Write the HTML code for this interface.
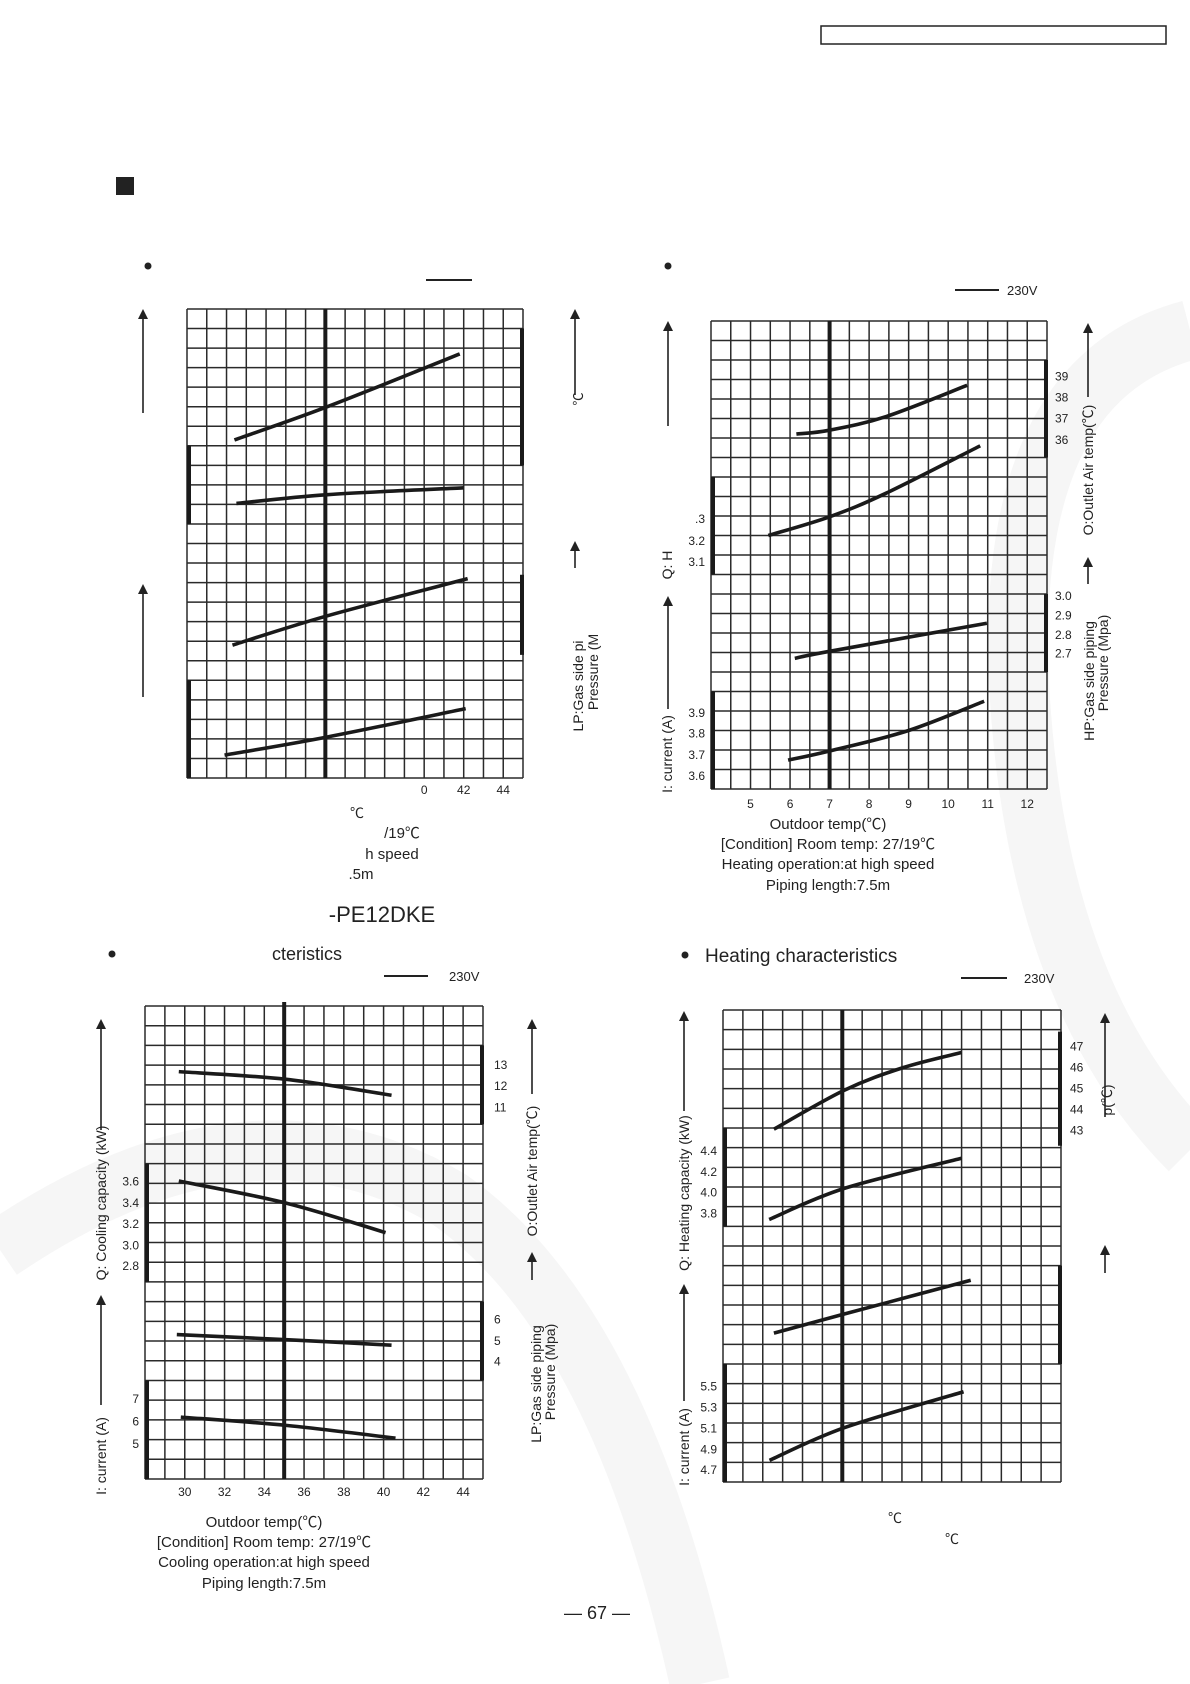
<!DOCTYPE html>
<html><head><meta charset="utf-8"><style>
html,body{margin:0;padding:0;background:#fff}
svg{display:block}
text{font-family:"Liberation Sans","Noto Sans CJK SC",sans-serif;fill:#222}
</style></head><body>
<svg id="page" width="1190" height="1684" viewBox="0 0 1190 1684" xmlns="http://www.w3.org/2000/svg">
<g id="bg" fill="none" stroke="#f6f6f6" stroke-width="60">
<path d="M1190 330 Q1000 380 1020 700 Q1040 1000 1190 1150"/>
<path d="M0 1250 Q250 1080 450 1200 Q620 1320 700 1684"/>
</g>
<rect x="821" y="26" width="345" height="18" fill="none" stroke="#222" stroke-width="1.5"/>
<rect x="116" y="177" width="18" height="18" fill="#222"/>

<circle cx="148" cy="266" r="3.5" fill="#222"/>
<line x1="426" y1="280" x2="472" y2="280" stroke="#222" stroke-width="2"/>
<text x="357" y="818" font-size="14" text-anchor="middle">℃</text>
<text x="402" y="838" font-size="15" text-anchor="middle">/19℃</text>
<text x="392" y="859" font-size="15" text-anchor="middle">h speed</text>
<text x="361" y="879" font-size="15" text-anchor="middle">.5m</text>
<text x="583" y="399" font-size="13" text-anchor="middle" transform="rotate(-90 583 399)">℃</text>
<text x="583" y="686" font-size="14" text-anchor="middle" transform="rotate(-90 583 686)">LP:Gas side pi</text>
<text x="598" y="672" font-size="14" text-anchor="middle" transform="rotate(-90 598 672)">Pressure (M</text>

<circle cx="668" cy="266" r="3.5" fill="#222"/>
<line x1="955" y1="290" x2="999" y2="290" stroke="#222" stroke-width="2"/>
<text x="1007" y="295" font-size="13">230V</text>
<text x="672" y="565" font-size="14" text-anchor="middle" transform="rotate(-90 672 565)">Q: H</text>
<text x="672" y="754" font-size="14" text-anchor="middle" transform="rotate(-90 672 754)">I: current (A)</text>
<text x="1093" y="470" font-size="14" text-anchor="middle" transform="rotate(-90 1093 470)">O:Outlet Air temp(℃)</text>
<text x="1094" y="681" font-size="14" text-anchor="middle" transform="rotate(-90 1094 681)">HP:Gas side piping</text>
<text x="1108" y="663" font-size="14" text-anchor="middle" transform="rotate(-90 1108 663)">Pressure (Mpa)</text>
<text x="828" y="829" font-size="15" text-anchor="middle">Outdoor temp(℃)</text>
<text x="828" y="849" font-size="15" text-anchor="middle">[Condition] Room temp: 27/19℃</text>
<text x="828" y="869" font-size="15" text-anchor="middle">Heating operation:at high speed</text>
<text x="828" y="890" font-size="15" text-anchor="middle">Piping length:7.5m</text>

<text x="382" y="922" font-size="22" text-anchor="middle">-PE12DKE</text>
<circle cx="112" cy="954" r="3.5" fill="#222"/>
<text x="307" y="960" font-size="18" text-anchor="middle">cteristics</text>
<line x1="384" y1="976" x2="428" y2="976" stroke="#222" stroke-width="2"/>
<text x="449" y="981" font-size="13">230V</text>
<text x="106" y="1203" font-size="14" text-anchor="middle" transform="rotate(-90 106 1203)">Q: Cooling capacity (kW)</text>
<text x="106" y="1456" font-size="14" text-anchor="middle" transform="rotate(-90 106 1456)">I: current (A)</text>
<text x="537" y="1171" font-size="14" text-anchor="middle" transform="rotate(-90 537 1171)">O:Outlet Air temp(℃)</text>
<text x="541" y="1384" font-size="14" text-anchor="middle" transform="rotate(-90 541 1384)">LP:Gas side piping</text>
<text x="555" y="1372" font-size="14" text-anchor="middle" transform="rotate(-90 555 1372)">Pressure (Mpa)</text>
<text x="264" y="1527" font-size="15" text-anchor="middle">Outdoor temp(℃)</text>
<text x="264" y="1547" font-size="15" text-anchor="middle">[Condition] Room temp: 27/19℃</text>
<text x="264" y="1567" font-size="15" text-anchor="middle">Cooling operation:at high speed</text>
<text x="264" y="1588" font-size="15" text-anchor="middle">Piping length:7.5m</text>

<circle cx="685" cy="955" r="3.5" fill="#222"/>
<text x="705" y="962" font-size="19">Heating characteristics</text>
<line x1="961" y1="978" x2="1007" y2="978" stroke="#222" stroke-width="2"/>
<text x="1024" y="983" font-size="13">230V</text>
<text x="689" y="1193" font-size="14" text-anchor="middle" transform="rotate(-90 689 1193)">Q: Heating capacity (kW)</text>
<text x="689" y="1447" font-size="14" text-anchor="middle" transform="rotate(-90 689 1447)">I: current (A)</text>
<text x="1112" y="1100" font-size="14" text-anchor="middle" transform="rotate(-90 1112 1100)">p(℃)</text>
<text x="895" y="1523" font-size="14" text-anchor="middle">℃</text>
<text x="952" y="1544" font-size="14" text-anchor="middle">℃</text>

<text x="597" y="1619" font-size="18" text-anchor="middle">— 67 —</text>
<g id="charts"></g>
</svg>
<script>
const tlX1=[30.4,35.1,41.8], tlY1=[17.3,19.0,21.7];
const tlX2=[30.5,35.1,42.0], tlY2=[14.05,14.5,14.85];
const tlX3=[30.3,35.1,42.2], tlY3=[6.8,8.3,10.2];
const tlX4=[29.9,35.1,42.1], tlY4=[1.17,2.1,3.55];
const tlTicks=[40,42,44], tlTickLabels=["0","42","44"];

const trX1=[6.16,7.0,8.43,10.48], trY1=[18.2,18.4,19.1,20.7];
const trX2=[5.45,7.0,8.43,10.81], trY2=[13.0,13.96,15.17,17.6];
const trX3=[6.12,7.0,10.98], trY3=[6.7,7.06,8.5];
const trX4=[5.95,7.0,9.0,10.91], trY4=[1.48,1.95,3.0,4.5];
const trTicks=[5,6,7,8,9,10,11,12], trTickLabels=["5","6","7","8","9","10","11","12"];

const blX1=[29.7,35.1,40.4], blY1=[20.67,20.28,19.47];
const blX2=[29.7,35.1,40.1], blY2=[15.12,14.0,12.5];
const blX3=[29.6,35.1,40.4], blY3=[7.33,7.07,6.79];
const blX4=[29.8,35.1,40.6], blY4=[3.14,2.72,2.07];
const blTicks=[30,32,34,36,38,40,42,44], blTickLabels=["30","32","34","36","38","40","42","44"];

const brX1=[5.28,7.05,8.53,10.0], brY1=[17.94,19.92,21.07,21.84];
const brX2=[5.16,7.05,10.0], brY2=[13.35,14.93,16.46];
const brX3=[5.28,7.05,10.23], brY3=[7.57,8.54,10.26];
const brX4=[5.17,7.05,10.05], brY4=[1.1,2.76,4.59];

const trLeftVals=[13.85,12.73,11.64,3.91,2.84,1.74,0.67], trLeftLabels=[".3","3.2","3.1","3.9","3.8","3.7","3.6"];
const trRightVals=[21.15,20.08,18.99,17.91,9.9,8.9,7.91,6.94], trRightLabels=["39","38","37","36","3.0","2.9","2.8","2.7"];
const blLeftVals=[15.1,14.0,12.95,11.86,10.81,4.05,2.93,1.77], blLeftLabels=["3.6","3.4","3.2","3.0","2.8","7","6","5"];
const blRightVals=[21.0,19.95,18.84,8.1,7.0,5.95], blRightLabels=["13","12","11","6","5","4"];
const brLeftVals=[16.83,15.77,14.71,13.65,4.85,3.79,2.71,1.65,0.6], brLeftLabels=["4.4","4.2","4.0","3.8","5.5","5.3","5.1","4.9","4.7"];
const brRightVals=[22.15,21.07,20.0,18.93,17.87], brRightLabels=["47","46","45","44","43"];

const NS="http://www.w3.org/2000/svg";
const root=document.getElementById('charts');
function mk(tag,attrs,parent){const e=document.createElementNS(NS,tag);for(const k in attrs)e.setAttribute(k,attrs[k]);(parent||root).appendChild(e);return e;}

function arrow(g,x,yb,yt,name){
  const l=mk('line',{x1:x,y1:yb,x2:x,y2:yt+8,stroke:'#222','stroke-width':1.6},g);
  
  
  const p=mk('polygon',{points:`${x-5},${yt+10} ${x+5},${yt+10} ${x},${yt}`,fill:'#222'},g);
  
  
}

function chart(c){
  const g=mk('g',{});
  
  
  const cw=(c.x1-c.x0)/17, rh=(c.y1-c.y0)/24;
  const sx=v=>c.x0+(v-c.xmin)/c.xstep*cw;
  const sy=v=>c.y1-v*rh;
  for(let i=0;i<=17;i++){
    const x=c.x0+i*cw;
    const l=mk('line',{x1:x,y1:c.y0,x2:x,y2:c.y1,stroke:'#2a2a2a','stroke-width':1.5},g);
    
    
  }
  for(let j=0;j<=24;j++){
    const y=c.y0+j*rh;
    const l=mk('line',{x1:c.x0,y1:y,x2:c.x1,y2:y,stroke:'#2a2a2a','stroke-width':1.5},g);
    
    
  }
  const bx=c.x0+c.bold*cw;
  const b=mk('line',{x1:bx,y1:c.y0-(c.boldExt||0),x2:bx,y2:c.y1,stroke:'#1a1a1a','stroke-width':4},g);
  
  
  c.leftBars.forEach(r=>{
    const e=mk('line',{x1:c.x0+2,y1:sy(r[0]),x2:c.x0+2,y2:sy(r[1]),stroke:'#1a1a1a','stroke-width':4},g);
    
    
  });
  c.rightBars.forEach(r=>{
    const e=mk('line',{x1:c.x1-1,y1:sy(r[0]),x2:c.x1-1,y2:sy(r[1]),stroke:'#1a1a1a','stroke-width':4},g);
    
    
  });
  c.series.forEach((s,k)=>{
    const pts=s[0].map((v,i)=>[sx(v),sy(s[1][i])]);
    let d='M'+pts[0][0]+' '+pts[0][1];
    for(let i=1;i<pts.length;i++){
      const p0=pts[Math.max(0,i-2)],p1=pts[i-1],p2=pts[i],p3=pts[Math.min(pts.length-1,i+1)];
      const c1x=p1[0]+(p2[0]-p0[0])/6,c1y=p1[1]+(p2[1]-p0[1])/6;
      const c2x=p2[0]-(p3[0]-p1[0])/6,c2y=p2[1]-(p3[1]-p1[1])/6;
      d+=` C${c1x} ${c1y} ${c2x} ${c2y} ${p2[0]} ${p2[1]}`;
    }
    const p=mk('path',{d:d,fill:'none',stroke:'#1a1a1a','stroke-width':3.6,'stroke-linecap':'butt'},g);
    
    
  });
  (c.ticks||[]).forEach((v,i)=>{
    const t=mk('text',{x:sx(v),y:c.tickY,'font-size':12,'text-anchor':'middle'},g);
    t.textContent=c.tickLabels[i];
    
    
  });
  (c.leftVals||[]).forEach((v,i)=>{
    const t=mk('text',{x:c.x0-6,y:sy(v)+4,'font-size':12,'text-anchor':'end'},g);
    t.textContent=c.leftLabels[i];
    
    
  });
  (c.rightVals||[]).forEach((v,i)=>{
    const t=mk('text',{x:c.x1+c.rOff,y:sy(v)+4,'font-size':12},g);
    t.textContent=c.rightLabels[i];
    
    
  });
  (c.arrows||[]).forEach(a=>arrow(g,a[0],a[1],a[2],a[3]));
}
const names=['outlet-temp-curve','capacity-curve','pressure-curve','current-curve'];
chart({name:'tl-chart',x0:187,x1:523,y0:309,y1:778,bold:7,xmin:28,xstep:1,
  leftBars:[[17,13],[5,0]],rightBars:[[23,16],[10.4,6.3]],
  series:[[tlX1,tlY1],[tlX2,tlY2],[tlX3,tlY3],[tlX4,tlY4]],seriesNames:names,
  ticks:tlTicks,tickLabels:tlTickLabels,tickY:794,
  arrows:[[143,413,309,'tl-q-arrow'],[143,697,584,'tl-i-arrow'],[575,395,309,'tl-o-arrow'],[575,568,541,'tl-lp-arrow']]});
chart({name:'tr-chart',x0:711,x1:1047,y0:321,y1:789,bold:6,xmin:4,xstep:0.5,
  leftBars:[[16,11],[5,0]],rightBars:[[22,17],[10,6]],
  series:[[trX1,trY1],[trX2,trY2],[trX3,trY3],[trX4,trY4]],seriesNames:names,
  ticks:trTicks,tickLabels:trTickLabels,tickY:808,
  leftVals:trLeftVals,leftLabels:trLeftLabels,rightVals:trRightVals,rightLabels:trRightLabels,rOff:8,
  arrows:[[668,426,321,'tr-q-arrow'],[668,709,596,'tr-i-arrow'],[1088,397,323,'tr-o-arrow'],[1088,584,557,'tr-hp-arrow']]});
chart({name:'bl-chart',x0:145,x1:483,y0:1006,y1:1479,bold:7,xmin:28,xstep:1,boldExt:4,
  leftBars:[[16,10],[5,0]],rightBars:[[22,18],[9,5]],
  series:[[blX1,blY1],[blX2,blY2],[blX3,blY3],[blX4,blY4]],seriesNames:names,
  ticks:blTicks,tickLabels:blTickLabels,tickY:1496,
  leftVals:blLeftVals,leftLabels:blLeftLabels,rightVals:blRightVals,rightLabels:blRightLabels,rOff:11,
  arrows:[[101,1130,1019,'bl-q-arrow'],[101,1405,1295,'bl-i-arrow'],[532,1094,1019,'bl-o-arrow'],[532,1280,1252,'bl-lp-arrow']]});
chart({name:'br-chart',x0:723,x1:1061,y0:1010,y1:1482,bold:6,xmin:4,xstep:0.5,
  leftBars:[[18,13],[6,0]],rightBars:[[22.9,17.1],[11,6]],
  series:[[brX1,brY1],[brX2,brY2],[brX3,brY3],[brX4,brY4]],seriesNames:names,
  leftVals:brLeftVals,leftLabels:brLeftLabels,rightVals:brRightVals,rightLabels:brRightLabels,rOff:9,
  arrows:[[684,1111,1011,'br-q-arrow'],[684,1401,1284,'br-i-arrow'],[1105,1117,1013,'br-o-arrow'],[1105,1273,1245,'br-p-arrow']]});
</script>
</body></html>
